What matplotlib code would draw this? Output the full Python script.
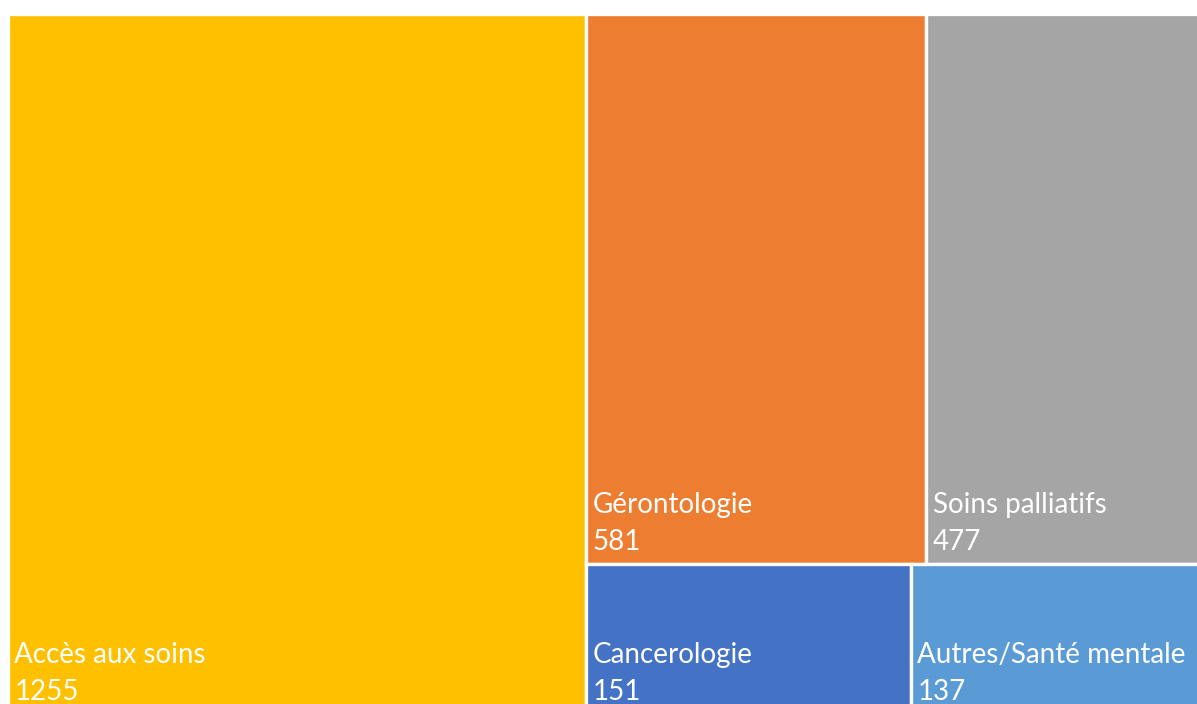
import matplotlib
matplotlib.use("Agg")
import matplotlib.pyplot as plt
from matplotlib.patches import Rectangle

# treemap data
labels = ["Accès aux soins", "Gérontologie", "Soins palliatifs",
          "Cancerologie", "Autres/Santé mentale"]
values = [1255, 581, 477, 151, 137]
colors = ["#FFC000", "#ED7D31", "#A5A5A5", "#4472C4", "#5B9BD5"]

W, H = 1197, 704
fig = plt.figure(figsize=(W / 100, H / 100), dpi=100)
# plot area: starts 8 px from left, 14 px from top, runs a bit past right/bottom edges
ax = fig.add_axes([8 / W, -10 / H, 1198 / W, 700 / H])
total = sum(values)
ax.set_xlim(0, total)
ax.set_ylim(0, 1)
ax.axis("off")

# layout: first item is a full-height column, rest split into two rows
rects = []
rects.append((0, 0, values[0], 1))
rest_w = total - values[0]
top = values[1] + values[2]
bot = values[3] + values[4]
h_top = top / (top + bot)
x = values[0]
for v in values[1:3]:
    w = rest_w * v / top
    rects.append((x, 1 - h_top, w, h_top))
    x += w
x = values[0]
for v in values[3:5]:
    w = rest_w * v / bot
    rects.append((x, 0, w, 1 - h_top))
    x += w

for (x0, y0, w, h), lab, val, c in zip(rects, labels, values, colors):
    ax.add_patch(Rectangle((x0, y0), w, h, facecolor=c, edgecolor="white",
                           linewidth=2.4))
    ax.annotate(str(val), xy=(x0, y0), xytext=(4.5, 10), textcoords="offset points",
                color="white", fontsize=20, family="Lato", va="baseline")
    ax.annotate(lab, xy=(x0, y0), xytext=(4.5, 37), textcoords="offset points",
                color="white", fontsize=20, family="Lato", va="baseline")

fig.savefig("out.png", dpi=100)
